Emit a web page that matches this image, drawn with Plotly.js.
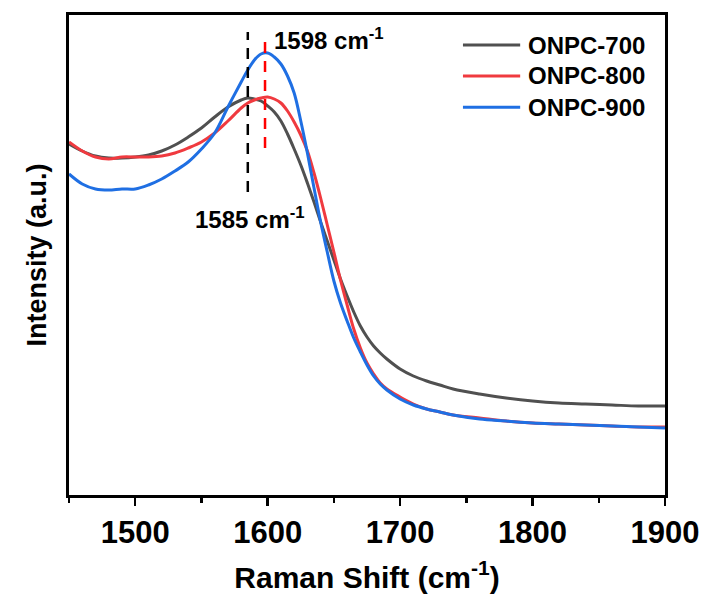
<!DOCTYPE html>
<html>
<head>
<meta charset="utf-8">
<script src="https://cdn.plot.ly/plotly-3.0.1.min.js"></script>
<style>html,body{margin:0;padding:0;background:#fff;}#chart{width:705px;height:603px;}</style>
</head>
<body>
<div id="chart"></div>
<script>
// Raman shift (cm-1)
var ramanShift = [1450,1460,1470,1480,1490,1500,1510,1520,1530,1540,1550,1560,1570,1580,1585,1590,1595,1600,1605,1610,1615,1620,1625,1630,1635,1640,1645,1650,1655,1660,1665,1670,1675,1680,1685,1690,1700,1710,1720,1730,1740,1760,1780,1800,1820,1840,1860,1880,1900];
// Intensities (a.u., arbitrary scale)
var onpc700 = [351,344,339,337,337,338,340,344,350,358,367,378,388,395,397,396,394,389,383,374,361,346,330,312,293,273,254,235,216,199,183,169,158,149,142,136,126,119,114,110,106,101,97,94,92,91,90,89,89];
var onpc800 = [353,344,338,336,338,338,338,339,342,347,353,362,374,387,392,395,397,398,396,392,384,373,360,344,322,297,270,243,215,190,166,147,132,121,112,106,98,91,86,83,80,77,74,72,71,70,69,68,68];
var onpc900 = [321,311,306,305,306,306,310,316,324,333,346,362,388,413,425,435,441,442,438,431,419,402,374,342,307,273,243,214,192,174,157,143,130,119,111,105,96,90,86,83,80,76,74,72,71,70,69,68,67];
var seriesNames = ["ONPC-700","ONPC-800","ONPC-900"];
var seriesColors = ["#505050","#f03a3f","#1f6fe3"];
// Peak markers
var peakPositions = [1585, 1598];
var peakLabels = ["1585 cm<sup>-1</sup>", "1598 cm<sup>-1</sup>"];
var peakLineColors = ["#000000", "#ff0000"];
var peakLineLow = [303, 347];
var peakLineHigh = [463, 457];
var xTickVals = [1500,1600,1700,1800,1900];

var FONT = "Arial, 'Liberation Sans', sans-serif";
var seriesData = [onpc700, onpc800, onpc900];

var traces = seriesData.map(function(d, i){
  return {x: ramanShift, y: d, type: 'scatter', mode: 'lines', name: seriesNames[i],
    line: {color: seriesColors[i], width: 3, shape: 'spline', smoothing: 1}, showlegend: false};
});

// dashed peak lines (data coordinates)
peakPositions.forEach(function(p, i){
  traces.push({x: [p, p], y: [peakLineLow[i], peakLineHigh[i]], type: 'scatter', mode: 'lines',
    line: {color: peakLineColors[i], width: 2.5, dash: '11px,8px'}, showlegend: false, hoverinfo: 'skip'});
});

var annotations = [
  {x: peakPositions[0] + 2, y: 277, xref: 'x', yref: 'y', text: peakLabels[0], showarrow: false,
   xanchor: 'center', yanchor: 'middle', font: {family: FONT, size: 24, color: '#000', weight: 'bold'}},
  {x: peakPositions[1] + 5, y: 456, xref: 'x', yref: 'y', text: peakLabels[1], showarrow: false,
   xanchor: 'left', yanchor: 'middle', font: {family: FONT, size: 24, color: '#000', weight: 'bold'}}
];
var shapes = [];
var legendRowsY = [0.9375, 0.873, 0.808];
seriesNames.forEach(function(n, i){
  shapes.push({type: 'line', xref: 'paper', yref: 'paper', x0: 0.661, x1: 0.757,
    y0: legendRowsY[i], y1: legendRowsY[i], line: {color: seriesColors[i], width: 3}});
  annotations.push({xref: 'paper', yref: 'paper', x: 0.766, y: legendRowsY[i], text: n, showarrow: false,
    xanchor: 'left', yanchor: 'middle', font: {family: FONT, size: 24, color: '#000', weight: 'bold'}});
});

var layout = {
  width: 705, height: 603,
  margin: {l: 69, r: 40, t: 15, b: 108, pad: 0},
  paper_bgcolor: '#fff', plot_bgcolor: '#fff',
  showlegend: false,
  font: {family: FONT, color: '#000'},
  xaxis: {
    range: [1450, 1900], tickmode: 'array', tickvals: xTickVals,
    showgrid: false, zeroline: false, showline: true, mirror: true, linecolor: '#000', linewidth: 3,
    ticks: 'outside', ticklen: 8, tickwidth: 2.5, tickcolor: '#000',
    minor: {dtick: 50, tick0: 1450, ticks: 'outside', ticklen: 5, tickwidth: 2.5, tickcolor: '#000'},
    tickfont: {family: FONT, size: 31, color: '#000', weight: 'bold'},
    title: {text: 'Raman Shift (cm<sup>-1</sup>)', standoff: 18, font: {family: FONT, size: 30, color: '#000', weight: 'bold'}}
  },
  yaxis: {
    range: [0, 480], showgrid: false, zeroline: false, showline: true, mirror: true, linecolor: '#000', linewidth: 3,
    ticks: '', showticklabels: false,
    title: {text: 'Intensity (a.u.)', standoff: 12, font: {family: FONT, size: 27, color: '#000', weight: 'bold'}}
  },
  annotations: annotations,
  shapes: shapes
};

Plotly.newPlot('chart', traces, layout, {staticPlot: true, displayModeBar: false});
</script>
</body>
</html>
